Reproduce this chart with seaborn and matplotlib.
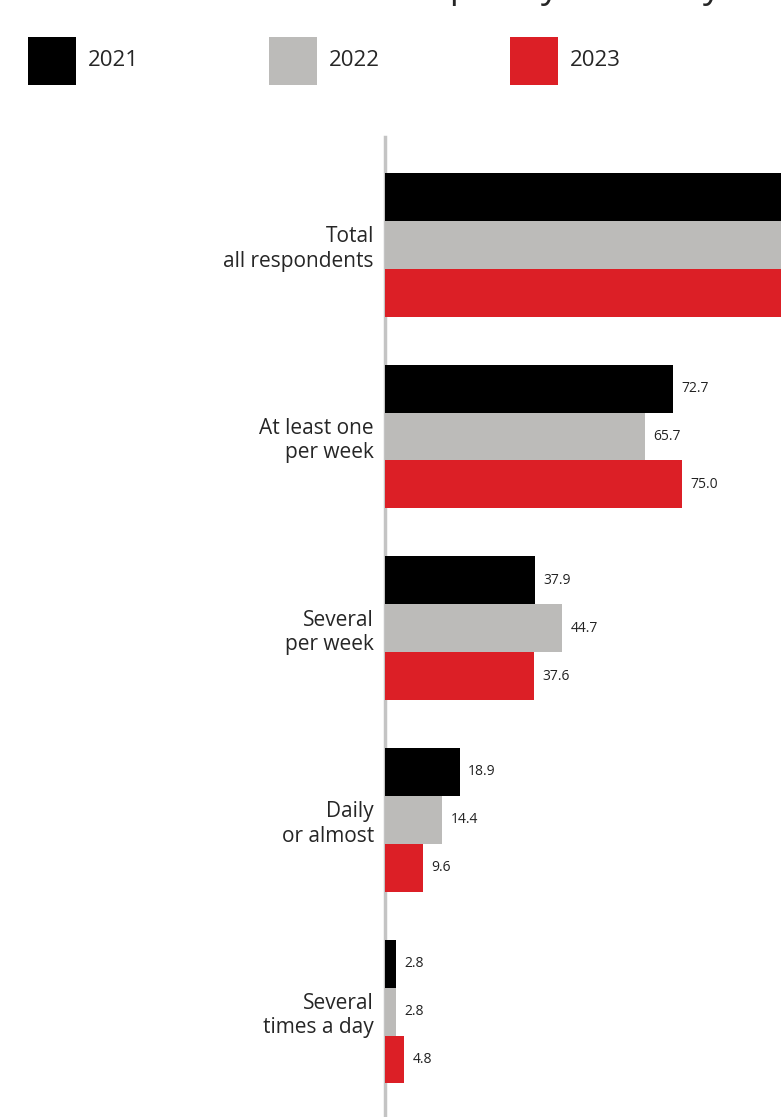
"""
Grouped horizontal bar chart: share of respondents by threshold, three waves
"""

import pandas as pd
import matplotlib
matplotlib.use("Agg")
import matplotlib.pyplot as plt
import seaborn as sns
from matplotlib.patches import Rectangle

# ========== DATA ==========
categories = [
    "Total\nall respondents",
    "At least one\nper week",
    "Several\nper week",
    "Daily\nor almost",
    "Several\ntimes a day",
]
series = ["2021", "2022", "2023"]
values_2021 = [100.0, 72.7, 37.9, 18.9, 2.8]
values_2022 = [100.0, 65.7, 44.7, 14.4, 2.8]
values_2023 = [100.0, 75.0, 37.6, 9.6, 4.8]
colors = ["#000000", "#bcbbb9", "#dc1f26"]
title = "Frequency of use by survey year, percentage of respondents"

# ========== STYLE ==========
sns.set_theme(style="white")
plt.rcParams["font.family"] = ["Open Sans", "DejaVu Sans"]
plt.rcParams["font.size"] = 14

# ========== TIDY TABLE ==========
df = pd.DataFrame({
    "category": categories * 3,
    "year": [s for s in series for _ in categories],
    "value": values_2021 + values_2022 + values_2023,
})

# ========== FIGURE ==========
fig = plt.figure(figsize=(7.81, 11.17), dpi=100)
ax = fig.add_axes([385 / 781, 0.0, 396 / 781, 980 / 1117])

sns.barplot(
    data=df, y="category", x="value", hue="year",
    palette=colors, orient="h", width=0.75, gap=0,
    saturation=1, legend=False, linewidth=0, ax=ax,
)

ax.set_xlim(0, 100)
ax.set_ylim(4.55, -0.5625)
ax.set_xlabel("")
ax.set_ylabel("")
ax.set_xticks([])
ax.tick_params(axis="y", length=0, pad=8, labelsize=15)
for lbl in ax.get_yticklabels():
    lbl.set_horizontalalignment("right")
    lbl.set_multialignment("right")

sns.despine(ax=ax, top=True, right=True, bottom=True, left=False)
ax.spines["left"].set_color("#c4c4c4")
ax.spines["left"].set_linewidth(2.5)
ax.spines["left"].set_zorder(0)

# value labels at bar ends (the full-width first group runs off the edge)
for container in ax.containers:
    labels = ["" if v >= 100 else f"{v:.1f}" for v in container.datavalues]
    ax.bar_label(container, labels=labels, padding=6, fontsize=10, color="#222222")

# ------ legend drawn as squares across the top ------
for i, (name, col) in enumerate(zip(series, colors)):
    x0 = (28 + i * 241) / 781
    fig.add_artist(Rectangle((x0, 1 - 85 / 1117), 48 / 781, 48 / 1117,
                             transform=fig.transFigure, color=col, lw=0))
    fig.text(x0 + 60 / 781, 1 - 61 / 1117, name, fontsize=16,
             va="center", ha="left")

# title sits just above the crop, only descenders peek in
fig.text(0.49, 1.0 + 3 / 1117, title, fontsize=26, ha="left", va="baseline")

fig.savefig("out.png", dpi=100)
